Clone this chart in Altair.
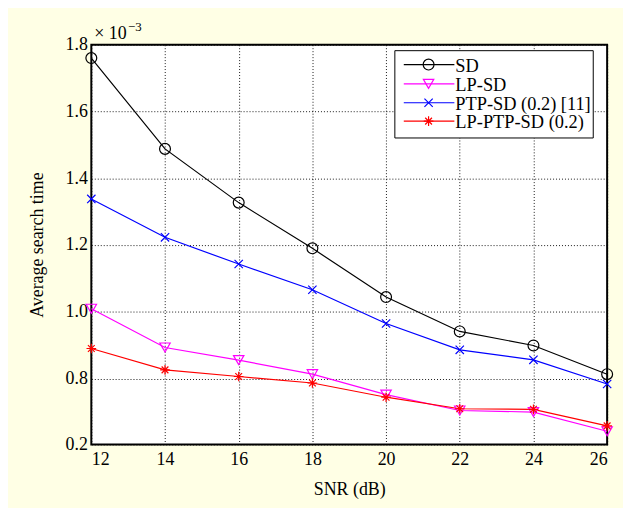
import altair as alt
import pandas as pd

snr = [12, 14, 16, 18, 20, 22, 24, 26]
sd = [1.760, 1.488, 1.327, 1.190, 1.044, 0.941, 0.899, 0.813]
lp_sd = [1.009, 0.893, 0.855, 0.813, 0.654, 0.509, 0.495, 0.320]
ptp_sd = [1.338, 1.223, 1.143, 1.066, 0.965, 0.886, 0.856, 0.750]
lp_ptp_sd = [0.890, 0.826, 0.806, 0.759, 0.630, 0.525, 0.520, 0.369]

names = ["SD", "LP-SD", "PTP-SD (0.2) [11]", "LP-PTP-SD (0.2)"]
colors = ["#000000", "#FF00FF", "#0000FF", "#FF0000"]
shapes = ["circle", "triangle-down", "M-1,-1L1,1M1,-1L-1,1",
          "M0,-1L0,1M-1,0L1,0M-0.7,-0.7L0.7,0.7M-0.7,0.7L0.7,-0.7"]
sizes = [120, 110, 70, 95]
y_ticks = [0.2, 0.8, 1.0, 1.2, 1.4, 1.6, 1.8]
x_ticks = [12, 14, 16, 18, 20, 22, 24, 26]

series = [sd, lp_sd, ptp_sd, lp_ptp_sd]
rows = []
for n, vals in zip(names, series):
    for x, v in zip(snr, vals):
        rows.append({"snr": x, "value": v, "series": n})
df = pd.DataFrame(rows)

W, H = 520, 403
FONT = "Liberation Serif, Times New Roman, serif"

xenc = alt.X("snr:Q", scale=alt.Scale(domain=[12, 26], nice=False),
             axis=alt.Axis(values=x_ticks, title="SNR (dB)", labelPadding=6,
                           titleY=45, titleBaseline="middle", titleFontSize=18,
                           titleFontWeight="normal"))
yenc = alt.Y("value:Q",
             scale=alt.Scale(domain=[0.2, 0.8, 1.8], range=[H, 336.5, 0], nice=False, zero=False),
             axis=alt.Axis(values=y_ticks, title="Average search time", labelPadding=4,
                           format=".1f", titleX=-54, titleY=H / 2, titleAngle=-90,
                           titleAlign="center", titleBaseline="middle", titleFontSize=18,
                           titleFontWeight="normal"))
cenc = alt.Color("series:N", scale=alt.Scale(domain=names, range=colors), legend=None)

base = alt.Chart(df)
lines = base.mark_line(strokeWidth=1.2).encode(x=xenc, y=yenc, color=cenc, detail="series:N")
layers = [lines]
for n, c, s, z in zip(names, colors, shapes, sizes):
    layers.append(
        base.transform_filter(alt.datum.series == n)
        .mark_point(filled=False, shape=s, size=z, color=c, strokeWidth=1.2, opacity=1)
        .encode(x="snr:Q", y="value:Q")
    )

one = alt.Data(values=[{}])
# legend box
layers.append(alt.Chart(one).mark_rect(fill="white", stroke="black", strokeWidth=1).encode(
    x=alt.value(306), x2=alt.value(506), y=alt.value(6), y2=alt.value(94)))
leg_y = [20, 39.5, 58.5, 77]
for n, c, s, z, yy in zip(names, colors, shapes, sizes, leg_y):
    layers.append(alt.Chart(one).mark_rule(color=c, strokeWidth=1.2).encode(
        x=alt.value(315), x2=alt.value(366), y=alt.value(yy)))
    layers.append(alt.Chart(one).mark_point(filled=False, shape=s, size=z, color=c,
                                            strokeWidth=1.2, opacity=1).encode(
        x=alt.value(340), y=alt.value(yy)))
    layers.append(alt.Chart(one).mark_text(text=n, align="left", baseline="middle",
                                           font=FONT, fontSize=18.5, color="black").encode(
        x=alt.value(367), y=alt.value(yy + 1)))

# exponent label
layers.append(alt.Chart(one).mark_text(text="× 10", align="left", baseline="alphabetic",
                                       font=FONT, fontSize=18, color="black").encode(
    x=alt.value(3), y=alt.value(-6)))
layers.append(alt.Chart(one).mark_text(text="−3", align="left", baseline="alphabetic",
                                       font=FONT, fontSize=13, color="black").encode(
    x=alt.value(37), y=alt.value(-14)))

chart = alt.layer(*layers).properties(
    width=W, height=H,
    autosize=alt.AutoSizeParams(type="none"),
    padding={"left": 84, "top": 35, "right": 16, "bottom": 62},
    background="#FFFFE5",
).configure_view(
    stroke="black", strokeWidth=2, fill="white"
).configure_axis(
    domain=False, ticks=False, grid=True, gridColor="black", gridDash=[1, 2],
    gridOpacity=0.9, gridWidth=1, labelFont=FONT, labelFontSize=18, labelColor="black",
    titleFont=FONT, titleColor="black",
)

chart.save("out.html", embed_options={"renderer": "svg", "actions": False})
